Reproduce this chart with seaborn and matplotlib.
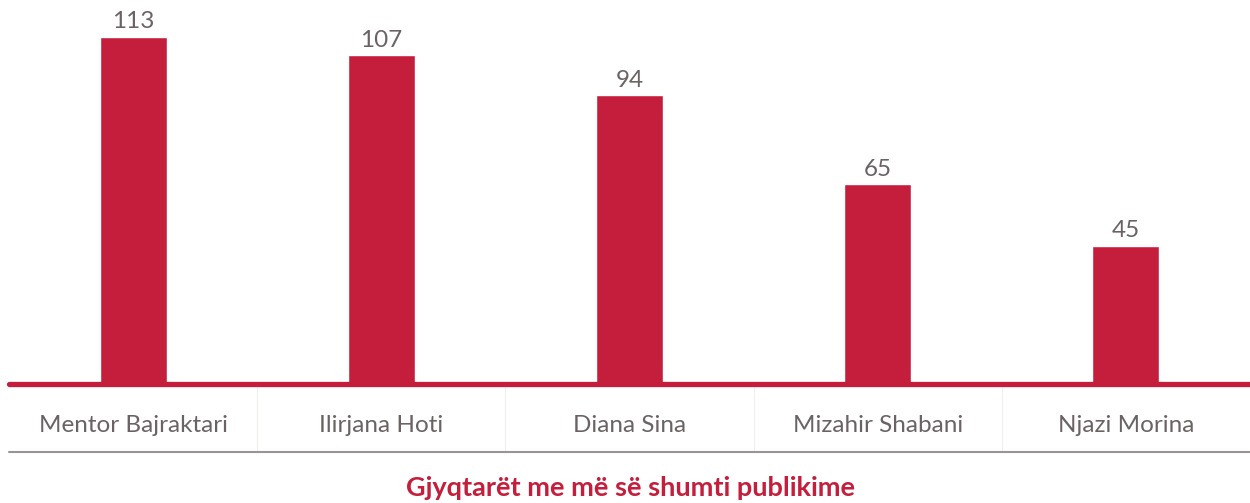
import pandas as pd
import matplotlib.pyplot as plt
import seaborn as sns

judges = ["Mentor Bajraktari", "Ilirjana Hoti", "Diana Sina", "Mizahir Shabani", "Njazi Morina"]
publications = [113, 107, 94, 65, 45]
title = "Gjyqtarët me më së shumti publikime"

RED = "#c41e3c"
GREY_TXT = "#6b6363"

sns.set_style("white")
plt.rcParams['font.family'] = ['Lato', 'DejaVu Sans']

df = pd.DataFrame({"judge": judges, "count": publications})

fig = plt.figure(figsize=(12.5, 5.03), dpi=100)
ax = fig.add_axes([0.0072, 119 / 503, 0.9928, 384 / 503])

sns.barplot(data=df, x="judge", y="count", color=RED, width=0.27,
            saturation=1, ax=ax)

ax.set_ylim(0, 125)
ax.set_xlim(-0.5, len(judges) - 0.5)

for i, v in enumerate(publications):
    ax.text(i, v + 1.5, str(v), ha="center", va="bottom",
            fontsize=17.5, color=GREY_TXT)

# baseline and separators
ax.axhline(0, color=RED, lw=3.8, zorder=3, clip_on=False)
trans = ax.get_xaxis_transform()
sep_depth = -(452 - 384) / 384
for b in range(1, len(judges)):
    ax.plot([b - 0.5, b - 0.5], [0, sep_depth], transform=trans,
            color="#f1eeee", lw=0.8, clip_on=False)
ax.plot([-0.5, len(judges) - 0.5], [sep_depth, sep_depth], transform=trans,
        color="#9a9595", lw=1.5, clip_on=False)

sns.despine(ax=ax, left=True, bottom=True)
ax.set_yticks([])
ax.set_xlabel("")
ax.set_ylabel("")
ax.tick_params(axis="x", length=0, pad=22, labelsize=17.5, labelcolor=GREY_TXT)

fig.text(0.504, 1 - 488 / 503, title, ha="center", va="center",
         fontsize=19.5, fontweight="bold", color=RED)

fig.savefig("out.png", dpi=100)
